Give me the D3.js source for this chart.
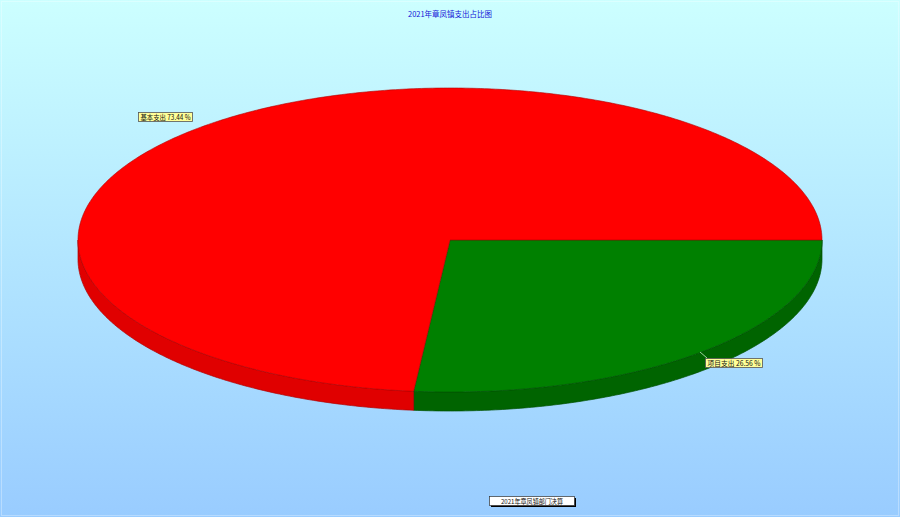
<!DOCTYPE html>
<html><head><meta charset="utf-8">
<script src="https://cdn.jsdelivr.net/npm/d3@7/dist/d3.min.js"></script>
<style>html,body{margin:0;padding:0;background:#fff}svg{display:block}
text{font-family:"Noto Sans CJK SC","Liberation Sans",sans-serif}</style></head>
<body><div id="c"></div>
<script>
const categories = ["项目支出", "基本支出"];
const values = [26.56, 73.44];
const valueLabels = ["26.56", "73.44"];
const topColors = ["#008000", "#ff0000"];
const sideColors = ["#006400", "#e00000"];
const edgeColors = ["#005000", "#b00000"];
const titleText = "2021年章凤镇支出占比图";
const legendText = "2021年章凤镇部门决算";

const W = 900, H = 517;
const cx = 450, cy = 240, rx = 372, ry = 152, depth = 19;
const svg = d3.select("#c").append("svg").attr("width", W).attr("height", H);
const defs = svg.append("defs");
const grad = defs.append("linearGradient").attr("id", "bg").attr("x1", 0).attr("x2", 0).attr("y1", 0).attr("y2", 1);
grad.append("stop").attr("offset", 0).attr("stop-color", "#ccffff");
grad.append("stop").attr("offset", 1).attr("stop-color", "#99ccff");
svg.append("rect").attr("width", W).attr("height", H).attr("fill", "url(#bg)");
svg.append("rect").attr("x", 1.5).attr("y", 1.5).attr("width", W - 3).attr("height", H - 3)
  .attr("fill", "none").attr("stroke", "#fff").attr("stroke-opacity", .3);

svg.append("text").attr("x", 450).attr("y", 17).attr("text-anchor", "middle")
  .attr("font-size", 7.6).attr("textLength", 84).attr("lengthAdjust", "spacingAndGlyphs")
  .attr("fill", "#1414d8").text(titleText);

const xPos = d3.scaleLinear().domain([-1, 1]).range([cx - rx, cx + rx]);
const yPos = d3.scaleLinear().domain([-1, 1]).range([cy - ry, cy + ry]);
const pie = d3.pie().sort(null).startAngle(Math.PI / 2).endAngle(Math.PI / 2 + 2 * Math.PI);
const slices = pie(values);
const px = a => xPos(Math.sin(a));
const py = a => yPos(-Math.cos(a));
const line = d3.line();

function rimAngles(a0, a1) {
  const n = Math.max(2, Math.ceil((a1 - a0) / 0.01));
  return d3.range(n + 1).map(i => a0 + (a1 - a0) * i / n);
}

// side wall, visible only on the front half of the rim
slices.forEach((s, i) => {
  const a0 = Math.max(s.startAngle, Math.PI / 2);
  const a1 = Math.min(s.endAngle, 3 * Math.PI / 2);
  if (a1 <= a0) return;
  const arc = rimAngles(a0, a1);
  const pts = arc.map(a => [px(a), py(a)])
    .concat(arc.slice().reverse().map(a => [px(a), py(a) + depth]));
  svg.append("path").attr("d", line(pts) + "Z").attr("fill", sideColors[i])
    .attr("stroke", edgeColors[i]).attr("stroke-width", 0.7);
});

// top faces
slices.forEach((s, i) => {
  const pts = [[cx, cy]].concat(rimAngles(s.startAngle, s.endAngle).map(a => [px(a), py(a)]));
  svg.append("path").attr("d", line(pts) + "Z").attr("fill", topColors[i])
    .attr("stroke", edgeColors[i]).attr("stroke-width", 0.6);
});

// labels
const labelBoxes = [
  { x: 705, y: 358, w: 57, h: 9, lx1: 700, ly1: 352 },
  { x: 138, y: 112, w: 54, h: 9 }
];
slices.forEach((s, i) => {
  const b = labelBoxes[i];
  if (b.lx1 !== undefined) {
    svg.append("line").attr("x1", b.lx1).attr("y1", b.ly1).attr("x2", b.x + 2).attr("y2", b.y)
      .attr("stroke", "#c8f0c8").attr("stroke-width", 0.8);
  }
  svg.append("rect").attr("x", b.x + .5).attr("y", b.y + .5).attr("width", b.w).attr("height", b.h)
    .attr("fill", "#ffff99").attr("stroke", "#555").attr("stroke-width", 0.8);
  svg.append("text").attr("x", b.x + 2.5).attr("y", b.y + 7.5).attr("font-size", 7)
    .attr("textLength", b.w - 4).attr("lengthAdjust", "spacingAndGlyphs")
    .attr("fill", "#111").text(categories[i] + " " + valueLabels[i] + " %");
});

// legend
svg.append("rect").attr("x", 491).attr("y", 498).attr("width", 85).attr("height", 9).attr("fill", "#000");
svg.append("rect").attr("x", 489.5).attr("y", 496.5).attr("width", 85).attr("height", 9)
  .attr("fill", "#fff").attr("stroke", "#333").attr("stroke-width", 0.7);
svg.append("text").attr("x", 532).attr("y", 503.8).attr("text-anchor", "middle")
  .attr("font-size", 6.5).attr("textLength", 62).attr("lengthAdjust", "spacingAndGlyphs")
  .attr("fill", "#111").text(legendText);
</script></body></html>
